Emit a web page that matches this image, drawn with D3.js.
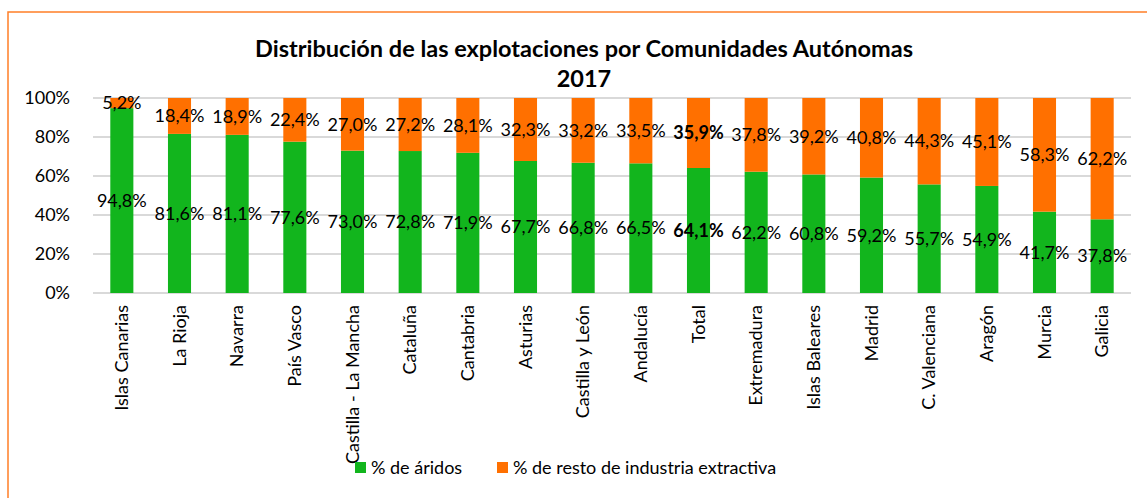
<!DOCTYPE html>
<html>
<head>
<meta charset="utf-8">
<title>Distribución de las explotaciones por Comunidades Autónomas 2017</title>
<style>
    body { margin: 0; background: #fff; }
    text { font-family: Lato, "Open Sans", sans-serif; fill: #000; }
    .tick text { font-size: 18px; }
    .grid line { stroke: #d9d9d9; stroke-width: 2px; }
    .label { font-size: 18px; text-anchor: middle; }
    .title { font-size: 23.5px; font-weight: bold; text-anchor: middle; }
</style>
<script src="https://d3js.org/d3.v7.min.js"></script>
</head>
<body>
<svg id="chart" width="1147" height="498"></svg>
<script>
var categories = ["Islas Canarias", "La Rioja", "Navarra", "País Vasco", "Castilla - La Mancha", "Cataluña",
    "Cantabria", "Asturias", "Castilla y León", "Andalucía", "Total", "Extremadura", "Islas Baleares",
    "Madrid", "C. Valenciana", "Aragón", "Murcia", "Galicia"];
var aridos = [94.8, 81.6, 81.1, 77.6, 73.0, 72.8, 71.9, 67.7, 66.8, 66.5, 64.1, 62.2, 60.8, 59.2, 55.7, 54.9, 41.7, 37.8];
var resto = [5.2, 18.4, 18.9, 22.4, 27.0, 27.2, 28.1, 32.3, 33.2, 33.5, 35.9, 37.8, 39.2, 40.8, 44.3, 45.1, 58.3, 62.2];
var yTicks = [0, 20, 40, 60, 80, 100];
var seriesNames = ["% de áridos", "% de resto de industria extractiva"];
var colors = ["#12b51d", "#ff7000"];

var svg = d3.select("#chart");

// marco naranja
svg.append("rect").attr("x", 8).attr("y", 12).attr("width", 1160).attr("height", 500)
    .attr("fill", "none").attr("stroke", "#ff7f27").attr("stroke-width", 1.5);

var plotLeft = 93, plotRight = 1131, plotTop = 98, plotBottom = 293;

var x = d3.scaleBand().domain(categories).range([plotLeft, plotRight]).paddingInner(0.6).paddingOuter(0.3);
var y = d3.scaleLinear().domain([0, 100]).range([plotBottom, plotTop]);

svg.append("g").attr("class", "grid")
    .selectAll("line").data(yTicks).enter().append("line")
    .attr("x1", plotLeft).attr("x2", plotRight)
    .attr("y1", function(d) { return y(d); }).attr("y2", function(d) { return y(d); });

var yAxis = svg.append("g").attr("transform", "translate(" + (plotLeft - 20) + ",0)")
    .call(d3.axisLeft(y).tickValues(yTicks).tickSize(0).tickFormat(function(d) { return d + "%"; }));
yAxis.select(".domain").remove();

var rows = categories.map(function(c, i) { return { cat: c, a: aridos[i], r: resto[i] }; });

svg.selectAll(".bar-a").data(rows).enter().append("rect")
    .attr("x", function(d) { return x(d.cat); })
    .attr("width", x.bandwidth())
    .attr("y", function(d) { return y(d.a); })
    .attr("height", function(d) { return y(0) - y(d.a); })
    .attr("fill", colors[0]);

svg.selectAll(".bar-r").data(rows).enter().append("rect")
    .attr("x", function(d) { return x(d.cat); })
    .attr("width", x.bandwidth())
    .attr("y", function(d) { return y(d.a + d.r); })
    .attr("height", function(d) { return y(d.a) - y(d.a + d.r); })
    .attr("fill", colors[1]);

function fmt(v) { return v.toFixed(1).replace(".", ",") + "%"; }

svg.selectAll(".lab-a").data(rows).enter().append("text").attr("class", "label")
    .attr("x", function(d) { return x(d.cat) + x.bandwidth() / 2; })
    .attr("y", function(d) { return y(d.a / 2); })
    .attr("dy", "0.35em")
    .style("font-weight", function(d) { return d.cat === "Total" ? "bold" : null; })
    .text(function(d) { return fmt(d.a); });

svg.selectAll(".lab-r").data(rows).enter().append("text").attr("class", "label")
    .attr("x", function(d) { return x(d.cat) + x.bandwidth() / 2; })
    .attr("y", function(d) { return y(d.a + d.r / 2); })
    .attr("dy", "0.35em")
    .style("font-weight", function(d) { return d.cat === "Total" ? "bold" : null; })
    .text(function(d) { return fmt(d.r); });

// etiquetas de categoría giradas
svg.selectAll(".cat").data(categories).enter().append("text")
    .attr("transform", function(d) { return "translate(" + (x(d) + x.bandwidth() / 2) + ",305) rotate(-90)"; })
    .attr("text-anchor", "end")
    .attr("dy", "0.35em")
    .style("font-size", "18px")
    .text(function(d) { return d; });

svg.append("text").attr("class", "title").attr("x", 584).attr("y", 57)
    .text("Distribución de las explotaciones por Comunidades Autónomas");
svg.append("text").attr("class", "title").attr("x", 584).attr("y", 87).text("2017");

// leyenda
var legendX = [355, 497];
var legend = svg.selectAll(".legend").data(seriesNames).enter().append("g")
    .attr("transform", function(d, i) { return "translate(" + legendX[i] + ",462)"; });
legend.append("rect").attr("width", 11).attr("height", 11)
    .attr("fill", function(d, i) { return colors[i]; });
legend.append("text").attr("x", 16).attr("y", 6).attr("dy", "0.35em")
    .style("font-size", "18px").text(function(d) { return d; });
</script>
</body>
</html>
